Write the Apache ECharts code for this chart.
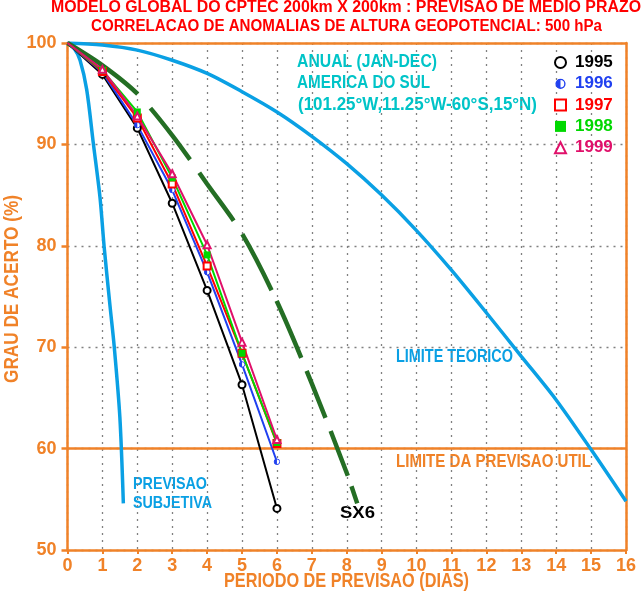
<!DOCTYPE html>
<html>
<head>
<meta charset="utf-8">
<script src="https://cdn.jsdelivr.net/npm/echarts@6/dist/echarts.min.js"></script>
<style>html,body{margin:0;padding:0;background:#fff}#c{width:643px;height:599px}</style>
</head>
<body>
<div id="c"></div>
<script>
// ---- data ----
const days = [0, 1, 2, 3, 4, 5, 6];
const y1995 = [100, 96.9, 91.6, 84.2, 75.6, 66.3, 54.1];
const y1996 = [100, 97.1, 91.9, 85.5, 77.4, 68.3, 58.7];
const y1997 = [100, 97.2, 92.6, 86.1, 78.0, 69.4, 60.5];
const y1998 = [100, 97.3, 93.2, 86.7, 79.1, 69.4, 60.6];
const y1999 = [100, 97.4, 92.8, 87.1, 80.1, 70.5, 60.9];

const sx6Days = [0, 1, 2, 3, 4, 5, 6, 7, 8, 8.3];
const sx6 = [100, 97.8, 95.0, 90.9, 86.1, 81.2, 74.5, 66.4, 57.6, 54.6];

const teoDays = [0, 1, 2, 3, 4, 5, 6, 7, 8, 9, 10, 11, 12, 13, 14, 15, 16];
const teorico = [100, 99.8, 99.3, 98.3, 97.0, 95.2, 93.2, 90.8, 88.1, 85.0, 81.5, 77.6, 73.4, 69.1, 64.8, 59.9, 54.8];

const subjDays = [0, 0.2, 0.36, 0.55, 0.74, 0.93, 1.05, 1.22, 1.34, 1.5, 1.6];
const subjetiva = [100, 99.4, 98.3, 95.4, 90.1, 84.8, 79.9, 74.0, 70.0, 63.1, 54.6];

const utilDays = [0, 16];
const utilLimit = [60, 60];

const xTicks = ['0','1','2','3','4','5','6','7','8','9','10','11','12','13','14','15','16'];
const yTicks = ['50','60','70','80','90','100'];
const years = ['1995', '1996', '1997', '1998', '1999'];

// ---- styles ----
const ORANGE = '#f08228';
const CYAN = '#00c4c8';
const LBLUE = '#0aa0e4';
const DGREEN = '#246e24';
const SANS = '"Liberation Sans", Arial, sans-serif';
const colors = {'1995': '#000000', '1996': '#2040f0', '1997': '#ff0000', '1998': '#00d800', '1999': '#e0106a'};

function halfCircle(col) {
  const svg = "<svg xmlns='http://www.w3.org/2000/svg' width='20' height='20' viewBox='0 0 20 20'>" +
    "<circle cx='10' cy='10' r='8' fill='white' stroke='" + col + "' stroke-width='2.5'/>" +
    "<path d='M10 2 A8 8 0 0 0 10 18 Z' fill='" + col + "'/></svg>";
  return 'image://data:image/svg+xml;charset=utf-8,' + encodeURIComponent(svg);
}
const symbols = {
  '1995': 'emptyCircle',
  '1996': halfCircle(colors['1996']),
  '1997': 'emptyRect',
  '1998': 'rect',
  '1999': 'emptyTriangle'
};
const yearData = {'1995': y1995, '1996': y1996, '1997': y1997, '1998': y1998, '1999': y1999};

function pairs(xs, ys) { return xs.map((x, i) => [x, ys[i]]); }

// text condensed to a given width (the original uses a narrow plotter font)
const mctx = document.createElement('canvas').getContext('2d');
function fitText(text, font, fill, x, y, width, opts) {
  mctx.font = font;
  const w = mctx.measureText(text).width;
  opts = opts || {};
  return Object.assign({
    type: 'text', x: x, y: y, scaleX: width / w, scaleY: 1,
    silent: true,
    style: {text: text, fill: fill, font: font, align: opts.align || 'left', verticalAlign: 'middle'}
  }, opts.extra || {});
}

const yearSeries = years.map(name => ({
  name: name,
  type: 'line',
  z: 5,
  silent: true,
  symbol: symbols[name],
  symbolSize: 7,
  itemStyle: {color: colors[name], borderWidth: 1.5},
  lineStyle: {color: colors[name], width: 2},
  data: pairs(days, yearData[name]).map((p, i) => i === 0 ? {value: p, symbol: 'none'} : p)
}));

const chart = echarts.init(document.getElementById('c'), null, {renderer: 'canvas'});
const labelFont = {color: ORANGE, fontFamily: SANS, fontWeight: 'bold', fontSize: 18};
const gridLine = {show: true, lineStyle: {color: '#808080', type: [2, 5], width: 1.3}};
const axisLineStyle = {color: ORANGE, width: 2.5};

const option = {
  animation: false,
  backgroundColor: '#ffffff',
  grid: {left: 67.5, right: 17, top: 43, bottom: 49, containLabel: false, outerBoundsMode: 'none'},
  legend: {
    orient: 'vertical', left: 554, top: 53, padding: 0,
    itemWidth: 11, itemHeight: 11, itemGap: 2.3,
    selectedMode: false,
    textStyle: {fontFamily: SANS, fontWeight: 'bold', fontSize: 17, lineHeight: 19, padding: [0, 0, 0, 4]},
    data: years.map(name => ({
      name: name,
      icon: symbols[name],
      itemStyle: {color: colors[name]},
      textStyle: {color: colors[name]}
    }))
  },
  xAxis: [
    {type: 'value', min: 0, max: 16, interval: 1,
     axisLine: {show: true, onZero: false, lineStyle: axisLineStyle},
     axisTick: {show: true, length: 4, lineStyle: {color: ORANGE, width: 2}},
     axisLabel: Object.assign({margin: 7, formatter: v => xTicks[Math.round(v)]}, labelFont),
     splitLine: gridLine},
    {type: 'value', min: 0, max: 16, position: 'top',
     axisLine: {show: true, onZero: false, lineStyle: axisLineStyle},
     axisTick: {show: false}, axisLabel: {show: false}, splitLine: {show: false}}
  ],
  yAxis: [
    {type: 'value', min: 50, max: 100, interval: 10,
     axisLine: {show: true, onZero: false, lineStyle: axisLineStyle},
     axisTick: {show: true, length: 6, lineStyle: {color: ORANGE, width: 2.5}},
     axisLabel: Object.assign({margin: 11, formatter: v => yTicks[Math.round((v - 50) / 10)]}, labelFont),
     splitLine: gridLine},
    {type: 'value', min: 50, max: 100, position: 'right',
     axisLine: {show: true, onZero: false, lineStyle: axisLineStyle},
     axisTick: {show: false}, axisLabel: {show: false}, splitLine: {show: false}}
  ],
  series: [
    {name: 'util', type: 'line', z: 2, silent: true, symbol: 'none',
     lineStyle: {color: ORANGE, width: 2.5}, data: pairs(utilDays, utilLimit)},
    {name: 'teorico', type: 'line', z: 3, silent: true, symbol: 'none', smooth: 0.3,
     lineStyle: {color: LBLUE, width: 3.5}, data: pairs(teoDays, teorico)},
    {name: 'subjetiva', type: 'line', z: 3, silent: true, symbol: 'none', smooth: 0.3,
     lineStyle: {color: LBLUE, width: 3.5}, data: pairs(subjDays, subjetiva)},
    {name: 'SX6', type: 'line', z: 4, silent: true, symbol: 'none', smooth: 0.3,
     lineStyle: {color: DGREEN, width: 4.5, type: [87, 19, 65, 16, 59, 16, 63, 12, 62, 14, 51, 14, 48, 11, 40, 200]},
     data: pairs(sx6Days, sx6)}
  ].concat(yearSeries),
  graphic: [
    fitText('MODELO GLOBAL DO CPTEC 200km X 200km : PREVISAO DE MEDIO PRAZO', 'bold 16px ' + SANS, '#ff0000', 51, 8, 590),
    fitText('CORRELACAO DE ANOMALIAS DE ALTURA GEOPOTENCIAL: 500 hPa', 'bold 16px ' + SANS, '#ff0000', 91, 27, 511),
    fitText('ANUAL (JAN-DEC)', 'bold 18px ' + SANS, CYAN, 297, 62, 140),
    fitText('AMERICA DO SUL', 'bold 18px ' + SANS, CYAN, 297, 83, 133),
    fitText('(101.25°W,11.25°W-60°S,15°N)', 'bold 18px ' + SANS, CYAN, 298, 105, 239),
    fitText('LIMITE TEORICO', 'bold 18px ' + SANS, LBLUE, 396, 357, 117),
    fitText('LIMITE DA PREVISAO UTIL', 'bold 18px ' + SANS, ORANGE, 396, 462, 195),
    fitText('PREVISAO', 'bold 17px ' + SANS, LBLUE, 133, 484, 74),
    fitText('SUBJETIVA', 'bold 17px ' + SANS, LBLUE, 133, 503, 79),
    fitText('SX6', 'bold 17px ' + SANS, '#000000', 340, 513, 35),
    fitText('PERIODO DE PREVISAO (DIAS)', 'bold 20px ' + SANS, ORANGE, 224, 581, 245),
    fitText('GRAU DE ACERTO (%)', 'bold 20px ' + SANS, ORANGE, 12, 383, 188, {extra: {rotation: Math.PI / 2}})
  ]
};
chart.setOption(option);
</script>
</body>
</html>
